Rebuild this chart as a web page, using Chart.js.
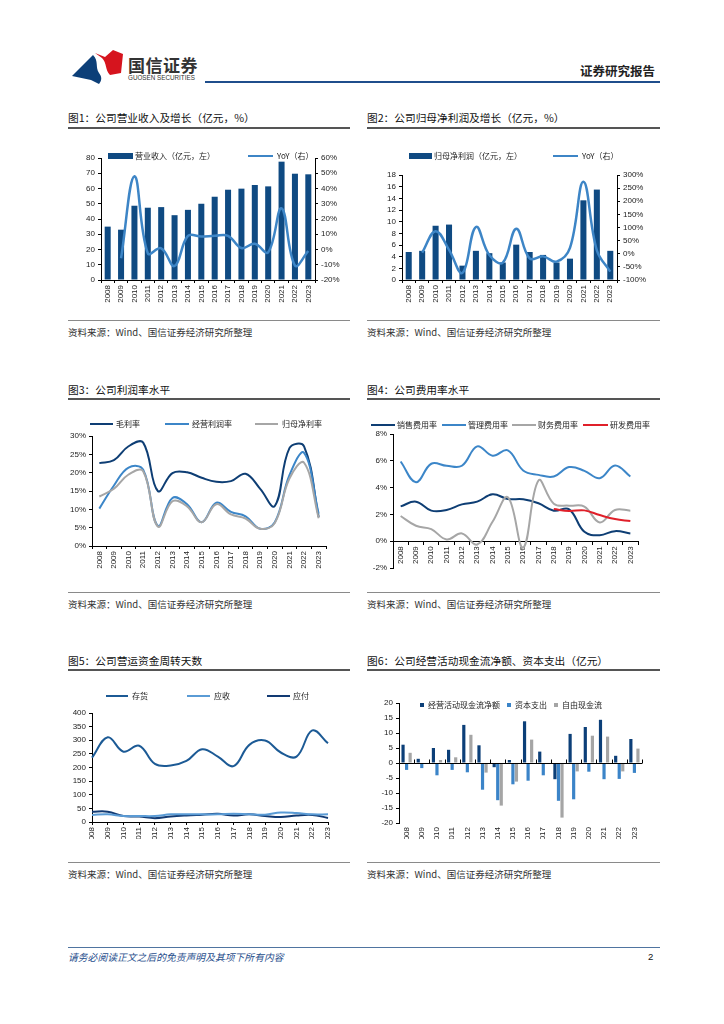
<!DOCTYPE html>
<html>
<head>
<meta charset="utf-8">
<script src="https://cdn.jsdelivr.net/npm/chart.js@4.4.0/dist/chart.umd.min.js"></script>
<style>
  body { margin: 0; background: #fff; }
  #page { position: relative; width: 724px; height: 1024px; overflow: hidden; color: #222;
          font-family: 'Liberation Sans', 'Noto Sans CJK SC', sans-serif; }
  .abs { position: absolute; }
  .title { position: absolute; font-size: 10.7px; line-height: 14px; color: #111; font-family: 'Noto Sans CJK SC', sans-serif; }
  .tline { position: absolute; height: 1.5px; background: #555; }
  .sline { position: absolute; height: 1px; background: #8a8a8a; }
  .src { position: absolute; font-size: 9.5px; line-height: 12px; color: #333; font-family: 'Noto Sans CJK SC', sans-serif; }
  .lg { position: absolute; font-size: 8px; line-height: 10px; white-space: nowrap; color: #222;
        font-family: 'Noto Sans CJK SC', sans-serif; }
  .lg i { display: inline-block; vertical-align: middle; margin-top: -2px; }
  canvas { position: absolute; }
</style>
</head>
<body>
<div id="page">
  <!-- header -->
  <svg class="abs" style="left:70px;top:46px" width="56" height="40">
    <path d="M2,30 L23,9 C29,15 25,21 29,27 C32,31 32,34 29,38 L21,34 Z" fill="#0c3f78"/>
    <path d="M25,7 L35,11 L43,4 L53,8 L51,27 L40,29 C35,24 37,17 32,12 Z" fill="#d6141e"/>
  </svg>
  <div class="abs" style="left:128px;top:52px;font-size:17px;font-weight:bold;color:#333;font-family:'Noto Sans CJK SC';letter-spacing:0.5px">国信证券</div>
  <div class="abs" style="left:128px;top:74px;font-size:6.3px;color:#333;font-family:'Liberation Sans'">GUOSEN SECURITIES</div>
  <div class="abs" style="right:69px;top:61px;font-size:12.5px;font-weight:bold;color:#222;font-family:'Noto Sans CJK SC'">证券研究报告</div>
  <div class="abs" style="left:205px;top:81px;width:455px;height:2px;background:#1f4e8c"></div>

  <!-- titles -->
  <div class="title" style="left:68px;top:111px">图1：公司营业收入及增长（亿元，%）</div>
  <div class="tline" style="left:68px;top:127px;width:282px"></div>
  <div class="title" style="left:367px;top:111px">图2：公司归母净利润及增长（亿元，%）</div>
  <div class="tline" style="left:367px;top:127px;width:293px"></div>
  <div class="title" style="left:68px;top:383px">图3：公司利润率水平</div>
  <div class="tline" style="left:68px;top:398px;width:282px"></div>
  <div class="title" style="left:367px;top:383px">图4：公司费用率水平</div>
  <div class="tline" style="left:367px;top:398px;width:293px"></div>
  <div class="title" style="left:68px;top:654px">图5：公司营运资金周转天数</div>
  <div class="tline" style="left:68px;top:669px;width:282px"></div>
  <div class="title" style="left:367px;top:654px">图6：公司经营活动现金流净额、资本支出（亿元）</div>
  <div class="tline" style="left:367px;top:669px;width:293px"></div>

  <!-- sources -->
  <div class="sline" style="left:68px;top:320px;width:282px"></div>
  <div class="src" style="left:68px;top:326px">资料来源：Wind、国信证券经济研究所整理</div>
  <div class="sline" style="left:367px;top:320px;width:293px"></div>
  <div class="src" style="left:367px;top:326px">资料来源：Wind、国信证券经济研究所整理</div>
  <div class="sline" style="left:68px;top:592px;width:282px"></div>
  <div class="src" style="left:68px;top:598px">资料来源：Wind、国信证券经济研究所整理</div>
  <div class="sline" style="left:367px;top:592px;width:293px"></div>
  <div class="src" style="left:367px;top:598px">资料来源：Wind、国信证券经济研究所整理</div>
  <div class="sline" style="left:68px;top:862px;width:282px"></div>
  <div class="src" style="left:68px;top:868px">资料来源：Wind、国信证券经济研究所整理</div>
  <div class="sline" style="left:367px;top:862px;width:293px"></div>
  <div class="src" style="left:367px;top:868px">资料来源：Wind、国信证券经济研究所整理</div>

  <!-- footer -->
  <div class="abs" style="left:68px;top:947px;width:592px;height:1px;background:#4f74a0"></div>
  <div class="abs" style="left:68px;top:951px;font-size:9.8px;line-height:12px;font-style:italic;color:#1f4e8c;font-family:'Noto Sans CJK SC'">请务必阅读正文之后的免责声明及其项下所有内容</div>
  <div class="abs" style="left:648px;top:951px;font-size:9.5px;line-height:12px;color:#111">2</div>

  <!-- charts -->
  <canvas id="c1" width="290" height="170" style="left:60px;top:148px"></canvas>
  <canvas id="c2" width="300" height="170" style="left:360px;top:148px"></canvas>
  <canvas id="c3" width="290" height="180" style="left:60px;top:405px"></canvas>
  <canvas id="c4" width="300" height="180" style="left:360px;top:405px"></canvas>
  <canvas id="c5" width="290" height="159" style="left:60px;top:680px"></canvas>
  <canvas id="c6" width="300" height="149" style="left:360px;top:690px"></canvas>

  <!-- legends -->
  <div class="lg" style="left:108px;top:151px"><i style="width:25px;height:6px;background:#0f4a82;margin-right:2px"></i>营业收入（亿元，左）</div>
  <div class="lg" style="left:248px;top:151px"><i style="width:25px;height:2.5px;background:#3d85c6;margin-right:4px"></i>YoY（右）</div>
  <div class="lg" style="left:409px;top:151px"><i style="width:23px;height:6px;background:#0f4a82;margin-right:2px"></i>归母净利润（亿元，左）</div>
  <div class="lg" style="left:553px;top:151px"><i style="width:25px;height:2.5px;background:#3d85c6;margin-right:4px"></i>YoY（右）</div>

  <div class="lg" style="left:90px;top:419px"><i style="width:23px;height:2.5px;background:#0e3e74;margin-right:3px"></i>毛利率</div>
  <div class="lg" style="left:165px;top:419px"><i style="width:24px;height:2.5px;background:#3c86c8;margin-right:3px"></i>经营利润率</div>
  <div class="lg" style="left:255px;top:419px"><i style="width:23px;height:2.5px;background:#a6a6a6;margin-right:4px"></i>归母净利率</div>

  <div class="lg" style="left:371px;top:420px"><i style="width:24px;height:2.5px;background:#0e3e74;margin-right:2px"></i>销售费用率</div>
  <div class="lg" style="left:442px;top:420px"><i style="width:24px;height:2.5px;background:#3c86c8;margin-right:2px"></i>管理费用率</div>
  <div class="lg" style="left:512px;top:420px"><i style="width:24px;height:2.5px;background:#a6a6a6;margin-right:2px"></i>财务费用率</div>
  <div class="lg" style="left:583px;top:420px"><i style="width:25px;height:2.5px;background:#e0202a;margin-right:2px"></i>研发费用率</div>

  <div class="lg" style="left:106px;top:691px"><i style="width:22px;height:2.5px;background:#1c5a95;margin-right:4px"></i>存货</div>
  <div class="lg" style="left:187px;top:691px"><i style="width:23px;height:2.5px;background:#5a9bd5;margin-right:4px"></i>应收</div>
  <div class="lg" style="left:267px;top:691px"><i style="width:23px;height:2.5px;background:#123a73;margin-right:3px"></i>应付</div>

  <div class="lg" style="left:420px;top:700px"><i style="width:4px;height:4px;background:#0c3f78;margin-right:4px"></i>经营活动现金流净额</div>
  <div class="lg" style="left:507px;top:700px"><i style="width:4px;height:4px;background:#3b84c8;margin-right:4px"></i>资本支出</div>
  <div class="lg" style="left:554px;top:700px"><i style="width:4px;height:4px;background:#a5a5a5;margin-right:4px"></i>自由现金流</div>
</div>

<script>
const years = ['2008','2009','2010','2011','2012','2013','2014','2015','2016','2017','2018','2019','2020','2021','2022','2023'];

// 图1 营业收入（亿元）及同比（%）
const revenue    = [35, 33, 48.7, 47.4, 47.8, 42.5, 46, 50, 54.6, 59.2, 59.9, 62.3, 61.4, 77.6, 69.7, 69.3];
const revenueYoY = [null, -5.7, 48, -2.5, 0.8, -10.8, 8.9, 8.5, 9, 9, 1, 3.7, -1.8, 27, -10.5, -1];

// 图2 归母净利润（亿元）及同比（%）
const netProfit    = [4.8, 5.0, 9.3, 9.5, 2.46, 5.0, 4.6, 3.0, 6.06, 4.8, 4.3, 3.0, 3.66, 13.66, 15.5, 5.0];
const netProfitYoY = [null, 4, 86, 15, -73, 102, -5, -34, 95, -18, -10, -30, 22, 274, 13, -68];

// 图3 利润率（%）
const grossMargin = [22.6, 23.4, 27.2, 28.2, 15.0, 19.9, 20.1, 18.6, 17.5, 17.7, 19.7, 15.6, 10.9, 26.7, 27.2, 7.9];
const opMargin    = [10.2, 16.5, 21.4, 20.8, 5.5, 13.1, 11.4, 6.5, 11.8, 9.3, 8.1, 4.7, 6.5, 19.3, 25.4, 8.8];
const netMargin   = [13.5, 15.6, 19.5, 20.4, 5.3, 12.2, 10.8, 6.5, 11.4, 8.6, 7.5, 4.7, 6.3, 18.4, 22.7, 7.6];

// 图4 费用率（%）
const sellingRate = [2.6, 2.95, 2.28, 2.33, 2.75, 2.95, 3.5, 3.15, 3.13, 2.83, 2.28, 2.38, 0.7, 0.45, 0.75, 0.58];
const adminRate   = [5.95, 4.4, 5.78, 5.63, 5.63, 7.08, 6.38, 6.78, 5.28, 4.95, 4.83, 5.53, 5.25, 4.7, 5.65, 4.83];
const financeRate = [1.88, 1.15, 0.9, 0.13, 0.58, -0.25, 1.45, 3.28, -0.48, 4.53, 2.8, 2.65, 2.58, 1.4, 2.33, 2.28];
const rdRate      = [null, null, null, null, null, null, null, null, null, null, 2.4, 2.25, 2.3, 1.95, 1.65, 1.5];

// 图5 营运资金周转天数
const inventoryDays  = [236, 311, 258, 280, 213, 207, 224, 267, 240, 205, 283, 299, 255, 240, 336, 289];
const receivableDays = [26, 28, 22, 22, 22, 28, 28, 28, 28, 30, 28, 27, 35, 33, 28, 28];
const payableDays    = [38, 38, 22, 20, 14, 20, 24, 27, 30, 24, 28, 22, 18, 24, 26, 15];

// 图6 现金流（亿元）
const opCashFlow   = [6.1, 1.4, 5.0, 4.4, 12.7, 5.9, -1.4, 1.0, 13.9, 3.8, -5.4, 9.7, 12.0, 14.4, 2.4, 8.0];
const capex        = [-2.3, -1.7, -4.1, -2.3, -3.1, -8.9, -12.4, -7.1, -5.9, -4.1, -12.6, -12.1, -2.9, -5.4, -5.3, -3.3];
const freeCashFlow = [3.4, -0.3, 1.0, 1.9, 9.4, -3.2, -14.2, -6.2, 7.8, -0.3, -18.2, -2.8, 9.1, 8.8, -2.8, 4.8];

Chart.defaults.animation = false;
Chart.defaults.plugins.legend.display = false;
Chart.defaults.plugins.tooltip.enabled = false;
Chart.defaults.font.family = "'Liberation Sans', 'Noto Sans CJK SC', sans-serif";
Chart.defaults.font.size = 8;
Chart.defaults.color = '#222';

const NAVY = '#0f4a82', BLUE = '#3d85c6', DARK = '#0e3e74', GREY = '#a6a6a6';

function yAxis(pos, width, min, max, step, fmt) {
  return {
    position: pos, min: min, max: max,
    border: { display: true, color: '#000' },
    grid: { drawOnChartArea: false, tickLength: 3, color: '#000' },
    ticks: { stepSize: step, padding: 3, autoSkip: false, callback: fmt },
    afterFit: s => { s.width = width; }
  };
}
function xAxis(height, offset) {
  return {
    offset: offset,
    border: { display: true, color: '#000' },
    grid: { offset: offset, drawOnChartArea: false, tickLength: 3, color: '#000' },
    ticks: { minRotation: 90, maxRotation: 90, autoSkip: false, padding: 2 },
    afterFit: s => { s.height = height; }
  };
}
const pct = v => v + '%';
function line(label, data, color, width) {
  return { type: 'line', label: label, data: data, borderColor: color, backgroundColor: color,
           borderWidth: width || 2, pointRadius: 0, tension: 0.4, fill: false };
}

// 图1
new Chart(document.getElementById('c1'), {
  type: 'bar',
  data: {
    labels: years,
    datasets: [
      Object.assign(line('YoY（右）', revenueYoY, BLUE, 2.5), { yAxisID: 'y1', order: 0 }),
      { label: '营业收入（亿元，左）', data: revenue, backgroundColor: NAVY, yAxisID: 'y', order: 1,
        barPercentage: 0.45, categoryPercentage: 1 }
    ]
  },
  options: {
    responsive: false,
    layout: { padding: { top: 10 } },
    scales: {
      x: xAxis(38, true),
      y: yAxis('left', 41, 0, 80, 10),
      y1: yAxis('right', 35, -20, 60, 10, pct)
    }
  }
});

// 图2
new Chart(document.getElementById('c2'), {
  type: 'bar',
  data: {
    labels: years,
    datasets: [
      Object.assign(line('YoY（右）', netProfitYoY, BLUE, 2.5), { yAxisID: 'y1', order: 0 }),
      { label: '归母净利润（亿元，左）', data: netProfit, backgroundColor: NAVY, yAxisID: 'y', order: 1,
        barPercentage: 0.45, categoryPercentage: 1 }
    ]
  },
  options: {
    responsive: false,
    layout: { padding: { top: 27 } },
    scales: {
      x: xAxis(38, true),
      y: yAxis('left', 42, 0, 18, 2),
      y1: yAxis('right', 43, -100, 300, 50, pct)
    }
  }
});

// 图3
new Chart(document.getElementById('c3'), {
  type: 'line',
  data: {
    labels: years,
    datasets: [
      line('归母净利率', netMargin, GREY),
      line('经营利润率', opMargin, '#3c86c8'),
      line('毛利率', grossMargin, DARK)
    ]
  },
  options: {
    responsive: false,
    layout: { padding: { top: 31, right: 24 } },
    scales: {
      x: xAxis(39, true),
      y: yAxis('left', 32, 0, 30, 5, pct)
    }
  }
});

// 图4 (category axis sits on the 0% line)
const x4 = xAxis(0, true);
x4.position = { y: 0 };
new Chart(document.getElementById('c4'), {
  type: 'line',
  data: {
    labels: years,
    datasets: [
      line('研发费用率', rdRate, '#e0202a'),
      line('财务费用率', financeRate, GREY),
      line('管理费用率', adminRate, '#3c86c8'),
      line('销售费用率', sellingRate, DARK)
    ]
  },
  options: {
    responsive: false,
    layout: { padding: { top: 29, right: 22, bottom: 17 } },
    scales: {
      x: x4,
      y: yAxis('left', 33, -2, 8, 2, pct)
    }
  }
});

// 图5
new Chart(document.getElementById('c5'), {
  type: 'line',
  data: {
    labels: years,
    datasets: [
      line('应收', receivableDays, '#5a9bd5'),
      line('应付', payableDays, '#123a73'),
      line('存货', inventoryDays, '#1c5a95')
    ]
  },
  options: {
    responsive: false,
    layout: { padding: { top: 33, right: 22 } },
    scales: {
      x: xAxis(17, false),
      y: yAxis('left', 32, 0, 400, 50)
    }
  }
});

// 图6: zero line with small category ticks pointing up
const zeroTicks = {
  id: 'zeroTicks',
  afterDatasetsDraw(chart) {
    const { ctx, scales: { x, y } } = chart;
    const y0 = Math.round(y.getPixelForValue(0)) + 0.5;
    const n = x.ticks.length;
    ctx.save();
    ctx.strokeStyle = '#000';
    ctx.lineWidth = 1;
    ctx.beginPath();
    ctx.moveTo(x.left, y0); ctx.lineTo(x.right, y0);
    for (let i = 1; i <= n; i++) {
      const px = Math.round(x.left + i * x.width / n) + 0.5;
      ctx.moveTo(px, y0); ctx.lineTo(px, y0 - 4);
    }
    ctx.stroke();
    ctx.restore();
  }
};
new Chart(document.getElementById('c6'), {
  type: 'bar',
  data: {
    labels: years,
    datasets: [
      { label: '经营活动现金流净额', data: opCashFlow, backgroundColor: '#0c3f78' },
      { label: '资本支出', data: capex, backgroundColor: '#3b84c8' },
      { label: '自由现金流', data: freeCashFlow, backgroundColor: '#a5a5a5' }
    ]
  },
  options: {
    responsive: false,
    layout: { padding: { top: 13, right: 18 } },
    datasets: { bar: { barPercentage: 0.9, categoryPercentage: 0.7 } },
    scales: {
      x: {
        border: { display: false },
        grid: { display: true, drawOnChartArea: false, drawTicks: false, color: 'rgba(0,0,0,0)' },
        ticks: { minRotation: 90, maxRotation: 90, autoSkip: false, padding: 4 },
        afterFit: s => { s.height = 16; }
      },
      y: yAxis('left', 39, -20, 20, 5)
    }
  },
  plugins: [zeroTicks]
});
</script>
</body>
</html>
